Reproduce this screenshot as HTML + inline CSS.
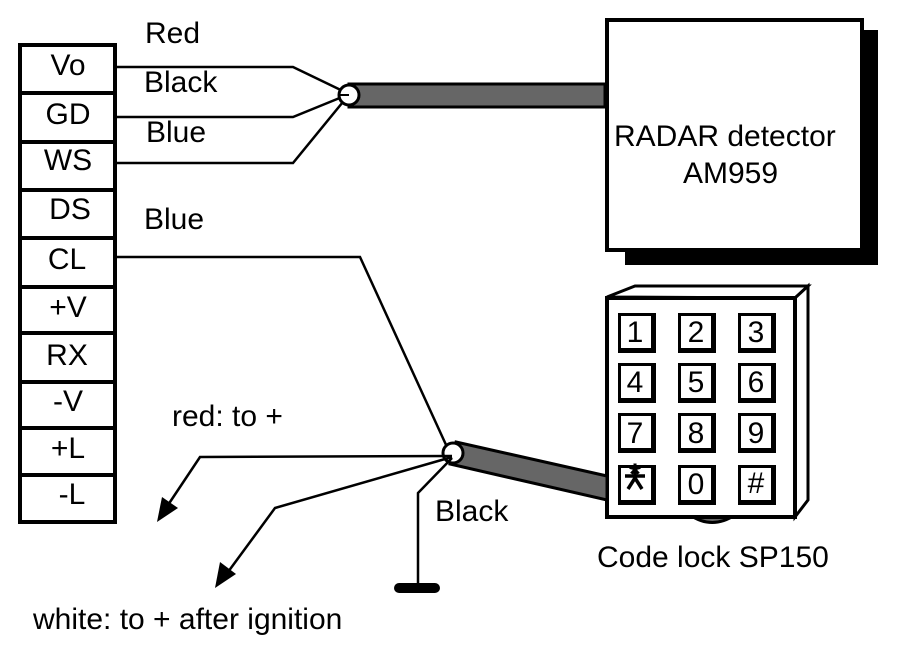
<!DOCTYPE html>
<html><head><style>
html,body{margin:0;padding:0;background:#fff;}
svg{display:block;}
text{font-family:"Liberation Sans",sans-serif;font-size:30px;fill:#000;}
</style></head><body>
<svg width="905" height="646" viewBox="0 0 905 646" xmlns="http://www.w3.org/2000/svg">
<rect x="20" y="45" width="95" height="477" fill="#fff" stroke="#000" stroke-width="4"/>
<g stroke="#000" stroke-width="4">
<line x1="20" y1="93" x2="115" y2="93"/>
<line x1="20" y1="142" x2="115" y2="142"/>
<line x1="20" y1="190" x2="115" y2="190"/>
<line x1="20" y1="238" x2="115" y2="238"/>
<line x1="20" y1="287" x2="115" y2="287"/>
<line x1="20" y1="333" x2="115" y2="333"/>
<line x1="20" y1="382" x2="115" y2="382"/>
<line x1="20" y1="428" x2="115" y2="428"/>
<line x1="20" y1="475" x2="115" y2="475"/>
</g>
<g text-anchor="middle">
<text x="68" y="75" font-size="28">Vo</text>
<text x="68" y="124" font-size="28">GD</text>
<text x="68" y="170" font-size="28">WS</text>
<text x="70" y="219" font-size="28">DS</text>
<text x="67" y="269" font-size="28">CL</text>
<text x="68" y="317" font-size="28">+V</text>
<text x="67" y="365" font-size="28">RX</text>
<text x="68" y="411" font-size="28">-V</text>
<text x="68" y="458" font-size="28">+L</text>
<text x="72" y="504" font-size="28">-L</text>
</g>
<g stroke="#000" stroke-width="2.5" fill="none">
<polyline points="115,67 293,67 347,93"/>
<polyline points="115,117 293,117 347,95"/>
<polyline points="115,163 293,163 347,97"/>
</g>
<rect x="625" y="30" width="253" height="235" fill="#000"/>
<rect x="607" y="20" width="255" height="230" fill="#fff" stroke="#000" stroke-width="4"/>
<rect x="349" y="84" width="256" height="23" fill="#666" stroke="#000" stroke-width="3"/>
<circle cx="349" cy="95" r="10" fill="#fff" stroke="#000" stroke-width="3"/>
<line x1="338" y1="95" x2="349" y2="95" stroke="#000" stroke-width="2"/>
<text x="614" y="146">RADAR detector</text>
<text x="683" y="183">AM959</text>
<text x="145" y="43">Red</text>
<text x="144" y="92">Black</text>
<text x="146" y="142">Blue</text>
<text x="144" y="229">Blue</text>
<polyline points="115,257 360,257 447,447" stroke="#000" stroke-width="2.5" fill="none"/>
<path d="M690,515 Q712,530 735,515 Z" fill="#666" stroke="#000" stroke-width="3"/>
<polygon points="607,297 635,286 808,286 795,298" fill="#fff" stroke="#000" stroke-width="3"/>
<polygon points="795,298 808,286 808,500 795,517" fill="#fff" stroke="#000" stroke-width="3"/>
<rect x="607" y="298" width="188" height="219" fill="#fff" stroke="#000" stroke-width="4"/>
<polygon points="456,442 607,476 607,500 450,464" fill="#666" stroke="#000" stroke-width="3"/>
<circle cx="453" cy="453" r="10" fill="#fff" stroke="#000" stroke-width="3"/>
<g fill="#000">
<rect x="618" y="313" width="38" height="40"/><rect x="678" y="313" width="38" height="40"/><rect x="738" y="313" width="38" height="40"/>
<rect x="618" y="363" width="38" height="40"/><rect x="678" y="363" width="38" height="40"/><rect x="738" y="363" width="38" height="40"/>
<rect x="618" y="413" width="38" height="40"/><rect x="678" y="413" width="38" height="40"/><rect x="738" y="413" width="38" height="40"/>
<rect x="618" y="465" width="38" height="40"/><rect x="678" y="465" width="38" height="40"/><rect x="738" y="465" width="38" height="40"/>
</g>
<g fill="#fff">
<rect x="621" y="316" width="30" height="32"/><rect x="681" y="316" width="30" height="32"/><rect x="741" y="316" width="30" height="32"/>
<rect x="621" y="366" width="30" height="32"/><rect x="681" y="366" width="30" height="32"/><rect x="741" y="366" width="30" height="32"/>
<rect x="621" y="416" width="30" height="32"/><rect x="681" y="416" width="30" height="32"/><rect x="741" y="416" width="30" height="32"/>
<rect x="621" y="468" width="30" height="32"/><rect x="681" y="468" width="30" height="32"/><rect x="741" y="468" width="30" height="32"/>
</g>
<g text-anchor="middle">
<text x="635" y="342" font-size="25">1</text><text x="696" y="342" font-size="25">2</text><text x="756" y="342" font-size="25">3</text>
<text x="635" y="392" font-size="25">4</text><text x="696" y="392" font-size="25">5</text><text x="756" y="392" font-size="25">6</text>
<text x="635" y="443" font-size="25">7</text><text x="696" y="443" font-size="25">8</text><text x="756" y="443" font-size="25">9</text>
<text x="696" y="494" font-size="25">0</text><text x="756" y="493" font-size="22">#</text>
<text x="635" y="484" font-size="20" font-weight="bold">*</text>
</g>
<g stroke="#000" stroke-width="3.5" stroke-linecap="butt">
<line x1="635" y1="469" x2="635" y2="481"/>
<line x1="625" y1="476" x2="645" y2="476"/>
<line x1="635" y1="478" x2="628" y2="489"/>
<line x1="635" y1="478" x2="642" y2="489"/>
</g>
<g stroke="#000" stroke-width="2.5" fill="none">
<polyline points="452,456 200,457 168,505"/>
<polyline points="452,457 275,508 228,572"/>
<polyline points="452,458 418,493 418,585"/>
</g>
<polygon points="157,522 162,497 178,508" fill="#000"/>
<polygon points="215,588 220,562 236,574" fill="#000"/>
<rect x="394" y="583" width="46" height="10" rx="5" fill="#000"/>
<text x="172" y="426" font-size="27">red: to +</text>
<text x="435" y="521" font-size="28">Black</text>
<text x="597" y="567" font-size="28">Code lock SP150</text>
<text x="33" y="629" font-size="28">white: to + after ignition</text>
</svg>
</body></html>
